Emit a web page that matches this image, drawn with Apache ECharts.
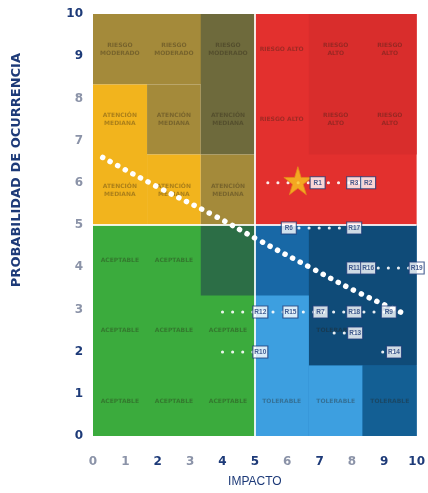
<!DOCTYPE html>
<html>
<head>
<meta charset="utf-8">
<script src="https://cdn.jsdelivr.net/npm/echarts@6/dist/echarts.min.js"></script>
<style>
  html, body { margin: 0; padding: 0; background: #fff; }
  #main { width: 428px; height: 493px; }
</style>
</head>
<body>
<div id="main"></div>
<script>
// ticks
var xTicks = [0, 1, 2, 3, 4, 5, 6, 7, 8, 9, 10];
var yTicks = [0, 1, 2, 3, 4, 5, 6, 7, 8, 9, 10];
var fadedX = [0, 1, 3, 6, 8];
var fadedY = [3, 4, 5, 6, 7, 8];

// zones: x0, x1, y0, y1, level
var zones = [
  [0, 5, 8.33, 10, 'olive'],
  [0, 1.67, 5, 8.33, 'yellow'],
  [1.67, 3.33, 6.67, 8.33, 'olive'],
  [1.67, 3.33, 5, 6.67, 'yellow'],
  [3.33, 5, 6.67, 10, 'darkOlive'],
  [3.33, 5, 5, 6.67, 'olive'],
  [5, 10, 5, 10, 'red'],
  [6.67, 10, 6.67, 10, 'darkRed'],
  [0, 5, 0, 5, 'green'],
  [3.33, 5, 3.33, 5, 'darkGreen'],
  [5, 10, 0, 5, 'blue'],
  [6.67, 10, 1.67, 5, 'navy'],
  [5, 6.67, 0, 3.33, 'lightBlue'],
  [6.67, 8.33, 0, 1.67, 'lightBlue'],
  [8.33, 10, 0, 1.67, 'midBlue']
];
var zoneColors = {
  olive: '#a48a3a', darkOlive: '#6e6a3c', yellow: '#f2b41d',
  red: '#e3302e', darkRed: '#d92d2c',
  green: '#3bab3d', darkGreen: '#2c6e46',
  blue: '#1868a6', navy: '#0f4b78', lightBlue: '#3d9fe0', midBlue: '#135f94'
};

// cell captions
var cellX = [0.83, 2.5, 4.17, 5.83, 7.5, 9.17];
var cellY = [9.17, 7.5, 5.83, 4.17, 2.5, 0.83];
var cellText = [
  ['RIESGO\nMODERADO', 'RIESGO\nMODERADO', 'RIESGO\nMODERADO', 'RIESGO ALTO', 'RIESGO\nALTO', 'RIESGO\nALTO'],
  ['ATENCIÓN\nMEDIANA', 'ATENCIÓN\nMEDIANA', 'ATENCIÓN\nMEDIANA', 'RIESGO ALTO', 'RIESGO\nALTO', 'RIESGO\nALTO'],
  ['ATENCIÓN\nMEDIANA', 'ATENCIÓN\nMEDIANA', 'ATENCIÓN\nMEDIANA', '', '', ''],
  ['ACEPTABLE', 'ACEPTABLE', '', '', '', ''],
  ['ACEPTABLE', 'ACEPTABLE', 'ACEPTABLE', '', 'TOLERABLE', ''],
  ['ACEPTABLE', 'ACEPTABLE', 'ACEPTABLE', 'TOLERABLE', 'TOLERABLE', 'TOLERABLE']
];

// threshold curve
var curve = [[0.3, 6.6], [2.0, 5.9], [3.8, 5.2], [5.1, 4.65], [6.7, 4.0], [8.2, 3.4], [9.7, 2.87]];

// risks
var riskNames = ['R1', 'R3', 'R2', 'R6', 'R17', 'R11', 'R16', 'R19', 'R12', 'R15', 'R7', 'R18', 'R9', 'R13', 'R10', 'R14'];
var riskX = [6.94, 8.07, 8.5, 6.05, 8.07, 8.07, 8.5, 10, 5.17, 6.1, 7.03, 8.07, 9.14, 8.1, 5.17, 9.3];
var riskY = [6.0, 6.0, 6.0, 4.93, 4.93, 3.98, 3.98, 3.98, 2.94, 2.94, 2.94, 2.94, 2.94, 2.44, 1.99, 1.99];
var star = [6.33, 6.05];

// leader lines: x0, x1, y
var leaders = [
  [5.4, 8.3, 6.0], [6.05, 8.07, 4.93], [8.5, 10, 3.98],
  [4.0, 9.14, 2.94], [7.45, 8.1, 2.44], [4.0, 5.17, 1.99], [8.95, 9.3, 1.99]
];

var navy = '#1d3a78';
var chart = echarts.init(document.getElementById('main'));

function tickFmt(faded) {
  return function (v) {
    return faded.indexOf(v) >= 0 ? '{f|' + v + '}' : '{n|' + v + '}';
  };
}
var tickRich = {
  n: { color: navy, fontWeight: 'bold', fontSize: 12, fontFamily: 'DejaVu Sans' },
  f: { color: '#8b93a8', fontWeight: 'bold', fontSize: 12, fontFamily: 'DejaVu Sans' }
};

var zoneData = zones.map(function (z) {
  return [{ xAxis: z[0], yAxis: z[2], itemStyle: { color: zoneColors[z[4]], opacity: 1 } }, { xAxis: z[1], yAxis: z[3] }];
});

var captions = [];
cellText.forEach(function (row, i) {
  row.forEach(function (t, j) {
    if (t) captions.push({ value: [cellX[j], cellY[i]], name: t });
  });
});

var leaderSeries = leaders.map(function (l) {
  return {
    type: 'line', data: [[l[0], l[2]], [l[1], l[2]]], symbol: 'none', silent: true, z: 3,
    lineStyle: { color: '#ffffff', width: 3, type: [0.1, 10], cap: 'round', opacity: 0.9 }
  };
});

var option = {
  animation: false,
  grid: { left: 93, right: 8, top: 14, bottom: 57 },
  xAxis: {
    type: 'value', min: 0, max: 10, interval: 1,
    name: 'IMPACTO', nameLocation: 'middle', nameGap: 40,
    nameTextStyle: { color: navy, fontSize: 12, fontFamily: 'Liberation Sans Narrow, Liberation Sans' },
    axisLine: { show: false }, axisTick: { show: false },
    axisLabel: { margin: 20, formatter: tickFmt(fadedX), rich: tickRich },
    splitLine: { show: true, lineStyle: { color: 'rgba(255,255,255,0.22)', width: 1 } }
  },
  yAxis: {
    type: 'value', min: 0, max: 10, interval: 1,
    axisLine: { show: false }, axisTick: { show: false },
    axisLabel: { margin: 10, formatter: tickFmt(fadedY), rich: tickRich },
    splitLine: { show: true, lineStyle: { color: 'rgba(255,255,255,0.22)', width: 1 } }
  },
  graphic: [{
    type: 'text', left: 10, top: 53, rotation: Math.PI / 2,
    style: { text: 'PROBABILIDAD DE OCURRENCIA', fill: navy, font: 'bold 13px DejaVu Sans' }
  }],
  series: [
    {
      type: 'line', data: [], z: 0,
      markArea: { silent: true, data: zoneData },
      markLine: {
        silent: true, symbol: 'none', label: { show: false },
        lineStyle: { color: 'rgba(255,255,255,0.85)', width: 2, type: 'solid' },
        data: [{ xAxis: 5 }, { yAxis: 5 }]
      }
    },
    {
      type: 'scatter', data: captions, symbolSize: 0, silent: true, z: 2,
      label: {
        show: true, position: 'inside', formatter: '{b}',
        color: 'rgba(40,30,20,0.45)', fontSize: 6, fontWeight: 'bold', lineHeight: 8,
        fontFamily: 'DejaVu Sans'
      }
    },
    {
      type: 'line', data: curve, symbol: 'none', smooth: true, silent: true, z: 4,
      lineStyle: { color: '#ffffff', width: 5.5, type: [0.1, 8.5], cap: 'round' }
    }
  ].concat(leaderSeries).concat([
    {
      type: 'scatter', data: [star], z: 6, silent: true,
      symbol: 'path://M50,0 L61,35 L98,35 L68,57 L79,91 L50,70 L21,91 L32,57 L2,35 L39,35 Z',
      symbolSize: 28,
      itemStyle: { color: '#f7c51e', borderColor: '#e48a1a', borderWidth: 1 }
    },
    {
      type: 'scatter', z: 7, silent: true,
      data: riskNames.map(function (n, i) { return { name: n, value: [riskX[i], riskY[i]] }; }),
      symbol: 'rect', symbolSize: [15, 12],
      itemStyle: { color: '#ffffff', borderColor: navy, borderWidth: 1 },
      label: {
        show: true, position: 'inside', formatter: '{b}',
        color: navy, fontSize: 6.5, fontWeight: 'bold', fontFamily: 'Liberation Sans Narrow, Liberation Sans'
      }
    }
  ])
};
chart.setOption(option);
</script>
</body>
</html>
